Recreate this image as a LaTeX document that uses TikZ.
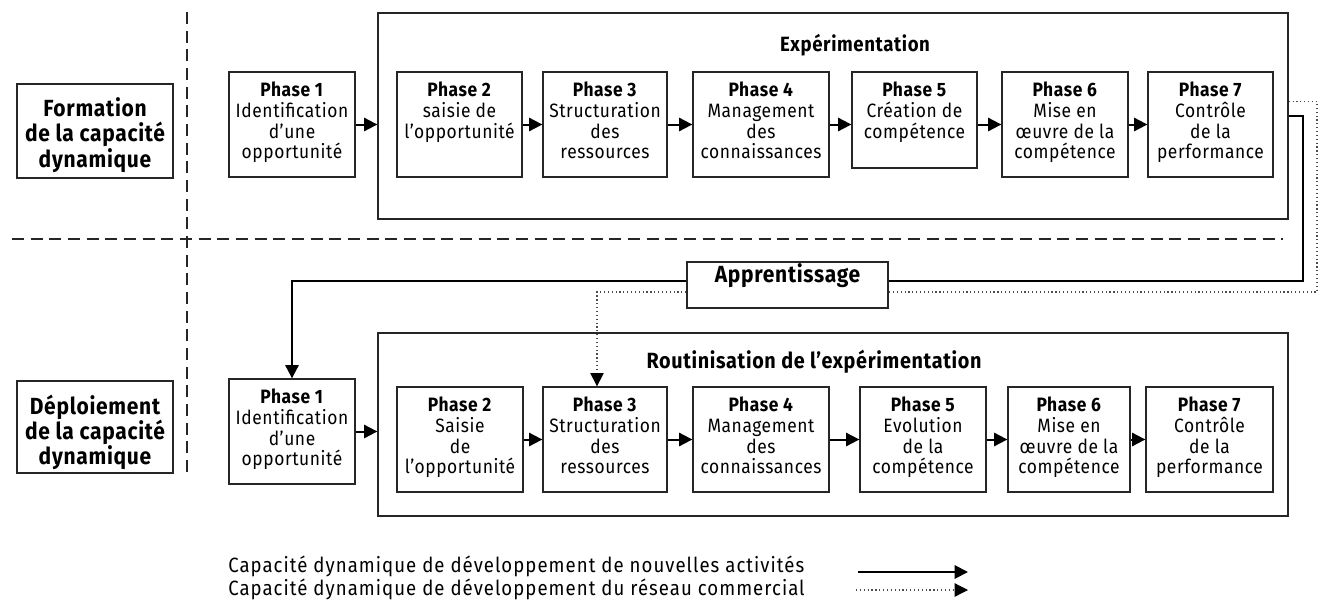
\documentclass[tikz,border=0pt]{standalone}
\usepackage{fontspec}
\setmainfont{Fira Sans}[LetterSpace=3,FakeStretch=0.9]
\newfontfamily\legfont{Fira Sans}[LetterSpace=5,FakeStretch=0.9]
\usetikzlibrary{arrows.meta,fit,calc}
\begin{document}
\begin{tikzpicture}[x=0.75pt,y=-0.75pt,
  box/.style={draw=black!85,line width=1pt,inner sep=0pt},
  boxtext/.style={anchor=north,yshift=-8pt,inner sep=0pt,align=center,font=\fontsize{14.5}{15.5}\selectfont},
  sidetext/.style={anchor=north,yshift=-10.5pt,inner sep=0pt,align=center,font=\fontsize{17.5}{19}\selectfont\bfseries},
  bigbox/.style={draw=black!85,line width=1pt,inner sep=0pt},
  conn/.style={line width=1.5pt,black},
  arr/.style={line width=1.5pt,black,-{Triangle[length=10pt,width=10pt]}},
  dotconn/.style={line width=0.9pt,black!70,dotted},
  dotarr/.style={line width=0.9pt,black!70,dotted,-{Triangle[length=10pt,width=10pt,color=black]}},
  sep/.style={line width=1pt,black!85,dash pattern=on 9pt off 5pt},
  legtext/.style={font=\legfont\fontsize{15.5}{14.3}\selectfont,anchor=west,inner sep=0pt,align=left}
]
\useasboundingbox (0,0) rectangle (1321,604);
% separators
\draw[sep] (187,12) -- (187,476);
\draw[sep] (12,239) -- (1283,239);
% side boxes
\node[box,fit={(17,84)(173,178)}] (form) {};
\node[box,fit={(17,381)(173,473)}] (depl) {};
\node[sidetext] (formt) at (form.north) {Formation\\de la capacité\\dynamique};
\node[sidetext] (deplt) at (depl.north) {Déploiement\\de la capacité\\dynamique};
% top big box
\node[bigbox,fit={(378,13)(1288,219)}] (top) {};
\node[font=\fontsize{15.5}{16}\selectfont\bfseries] (toptitle) at (855,45) {Expérimentation};
\node[box,fit={(229,72)(355,177)}] (a1) {};
\node[box,fit={(397,72)(522,177)}] (a2) {};
\node[box,fit={(543,72)(667,177)}] (a3) {};
\node[box,fit={(693,72)(829,177)}] (a4) {};
\node[box,fit={(852,72)(977,168)}] (a5) {};
\node[box,fit={(1002,72)(1128,177)}] (a6) {};
\node[box,fit={(1148,72)(1273,177)}] (a7) {};
\node[boxtext] (a1t) at (a1.north) {\textbf{Phase 1}\\Identification\\d’une\\opportunité};
\node[boxtext] (a2t) at (a2.north) {\textbf{Phase 2}\\saisie de\\l’opportunité};
\node[boxtext] (a3t) at (a3.north) {\textbf{Phase 3}\\Structuration\\des\\ressources};
\node[boxtext] (a4t) at (a4.north) {\textbf{Phase 4}\\Management\\des\\connaissances};
\node[boxtext] (a5t) at (a5.north) {\textbf{Phase 5}\\Création de\\compétence};
\node[boxtext] (a6t) at (a6.north) {\textbf{Phase 6}\\Mise en\\œuvre de la\\compétence};
\node[boxtext] (a7t) at (a7.north) {\textbf{Phase 7}\\Contrôle\\de la\\performance};
% bottom big box
\node[bigbox,fit={(378,333)(1288,516)}] (bot) {};
\node[font=\fontsize{16.5}{17}\selectfont\bfseries] (bottitle) at (814,362) {Routinisation de l’expérimentation};
\node[box,fit={(229,379)(355,484)}] (b1) {};
\node[box,fit={(397,387)(523,492)}] (b2) {};
\node[box,fit={(543,387)(667,492)}] (b3) {};
\node[box,fit={(693,387)(829,492)}] (b4) {};
\node[box,fit={(860,387)(986,492)}] (b5) {};
\node[box,fit={(1008,387)(1130,492)}] (b6) {};
\node[box,fit={(1146,387)(1273,492)}] (b7) {};
\node[boxtext] (b1t) at (b1.north) {\textbf{Phase 1}\\Identification\\d’une\\opportunité};
\node[boxtext] (b2t) at (b2.north) {\textbf{Phase 2}\\Saisie\\de\\l’opportunité};
\node[boxtext] (b3t) at (b3.north) {\textbf{Phase 3}\\Structuration\\des\\ressources};
\node[boxtext] (b4t) at (b4.north) {\textbf{Phase 4}\\Management\\des\\connaissances};
\node[boxtext] (b5t) at (b5.north) {\textbf{Phase 5}\\Evolution\\de la\\compétence};
\node[boxtext] (b6t) at (b6.north) {\textbf{Phase 6}\\Mise en\\œuvre de la\\compétence};
\node[boxtext] (b7t) at (b7.north) {\textbf{Phase 7}\\Contrôle\\de la\\performance};
% apprentissage
\node[box,fit={(687,262)(888,308)},font=\fontsize{17.5}{18}\selectfont\bfseries] (app) {Apprentissage};
% top arrows
\draw[arr] (a1.east) -- (a1.east -| top.west);
\draw[arr] (a2.east) -- (a3.west);
\draw[arr] (a3.east) -- (a4.west);
\draw[arr] (a4.east) -- (a4.east -| a5.west);
\draw[arr] (a4.east -| a5.east) -- (a4.east -| a6.west);
\draw[arr] (a6.east) -- (a7.west);
% bottom arrows
\draw[arr] (b1.east) -- (b1.east -| bot.west);
\draw[arr] (b2.east) -- (b3.west);
\draw[arr] (b3.east) -- (b4.west);
\draw[arr] (b4.east) -- (b5.west);
\draw[arr] (b5.east) -- (b6.west);
\draw[arr] (b6.east) -- (b7.west);
% feedback loops
\coordinate (sr) at (1303,281);
\coordinate (dr) at (1317,292);
\draw[conn] (top.east) -| (sr) -- (sr -| app.east);
\draw[arr] (app.west |- sr) -| (b1.north);
\draw[dotconn] ([yshift=11pt]top.east) -| (dr) -- (dr -| app.east);
\draw[dotarr] (app.west |- dr) -| ([xshift=-6pt]b3.north);
% legend
\node[legtext] (leg) at (228,578) {Capacité dynamique de développement de nouvelles activités\\Capacité dynamique de développement du réseau commercial};
\coordinate (l1e) at (968,572);
\coordinate (l2e) at (968,590);
\draw[arr] (858,572) -- (l1e);
\draw[dotarr] (856,590) -- (l2e);
\end{tikzpicture}
\end{document}
